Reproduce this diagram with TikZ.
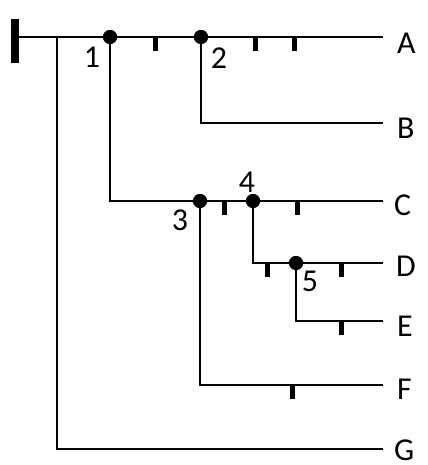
\documentclass[tikz,border=0pt]{standalone}
\usepackage{fontspec}
\setmainfont{Carlito}
\begin{document}
\begin{tikzpicture}[x=1bp,y=-1bp,
  branch/.style={line width=1.7bp,black},
  dotnode/.style={circle,fill=black,inner sep=0pt,minimum size=14bp},
  tickmark/.style={line width=5bp,black},
  leaflabel/.style={anchor=base west,inner sep=0pt,font=\fontsize{32}{38}\selectfont},
  numlabel/.style={inner sep=0pt,font=\fontsize{32}{38}\selectfont}]
\useasboundingbox (0,0) rectangle (427,465);
% root bar
\coordinate (root) at (15,37);
\fill (11,19) rectangle (19,63);
% internal nodes
\node[dotnode] (n1) at (110,37) {};
\node[dotnode] (n2) at (201,37) {};
\node[dotnode] (n3) at (200,201) {};
\node[dotnode] (n4) at (253,201) {};
\node[dotnode] (n5) at (296,263) {};
\coordinate (g) at (57,37);
% leaf ends
\coordinate (eA) at (383,37);
\coordinate (eB) at (383,123);
\coordinate (eC) at (383,201);
\coordinate (eD) at (383,263);
\coordinate (eE) at (383,321);
\coordinate (eF) at (383,385);
\coordinate (eG) at (383,449);
% connectors
\draw[branch] (root) -- (eA);
\draw[branch] (g) |- (eG);
\draw[branch] (n1.center) |- (eC);
\draw[branch] (n2.center) |- (eB);
\draw[branch] (n3.center) |- (eF);
\draw[branch] (n4.center) |- (eD);
\draw[branch] (n5.center) |- (eE);
\node[dotnode] at (n1) {};
\node[dotnode] at (n2) {};
\node[dotnode] at (n3) {};
\node[dotnode] at (n4) {};
\node[dotnode] at (n5) {};
% ticks
\foreach \x/\y in {155/37,255/37,294/37,224/201,297/201,267/263,341/263,341/321,292/385}
  \draw[tickmark] (\x,\y) -- (\x,\y+14);
% labels
\node[leaflabel] (lA) at (397,54) {A};
\node[leaflabel] (lB) at (397,139) {B};
\node[leaflabel] (lC) at (394,216) {C};
\node[leaflabel] (lD) at (396,276) {D};
\node[leaflabel] (lE) at (397,336) {E};
\node[leaflabel] (lF) at (397,399) {F};
\node[leaflabel] (lG) at (394,460) {G};
\node[numlabel] (t1) at (92,57) {1};
\node[numlabel] (t2) at (219,58) {2};
\node[numlabel] (t3) at (180,220) {3};
\node[numlabel] (t4) at (247,182) {4};
\node[numlabel] (t5) at (310,281) {5};
\end{tikzpicture}
\end{document}
